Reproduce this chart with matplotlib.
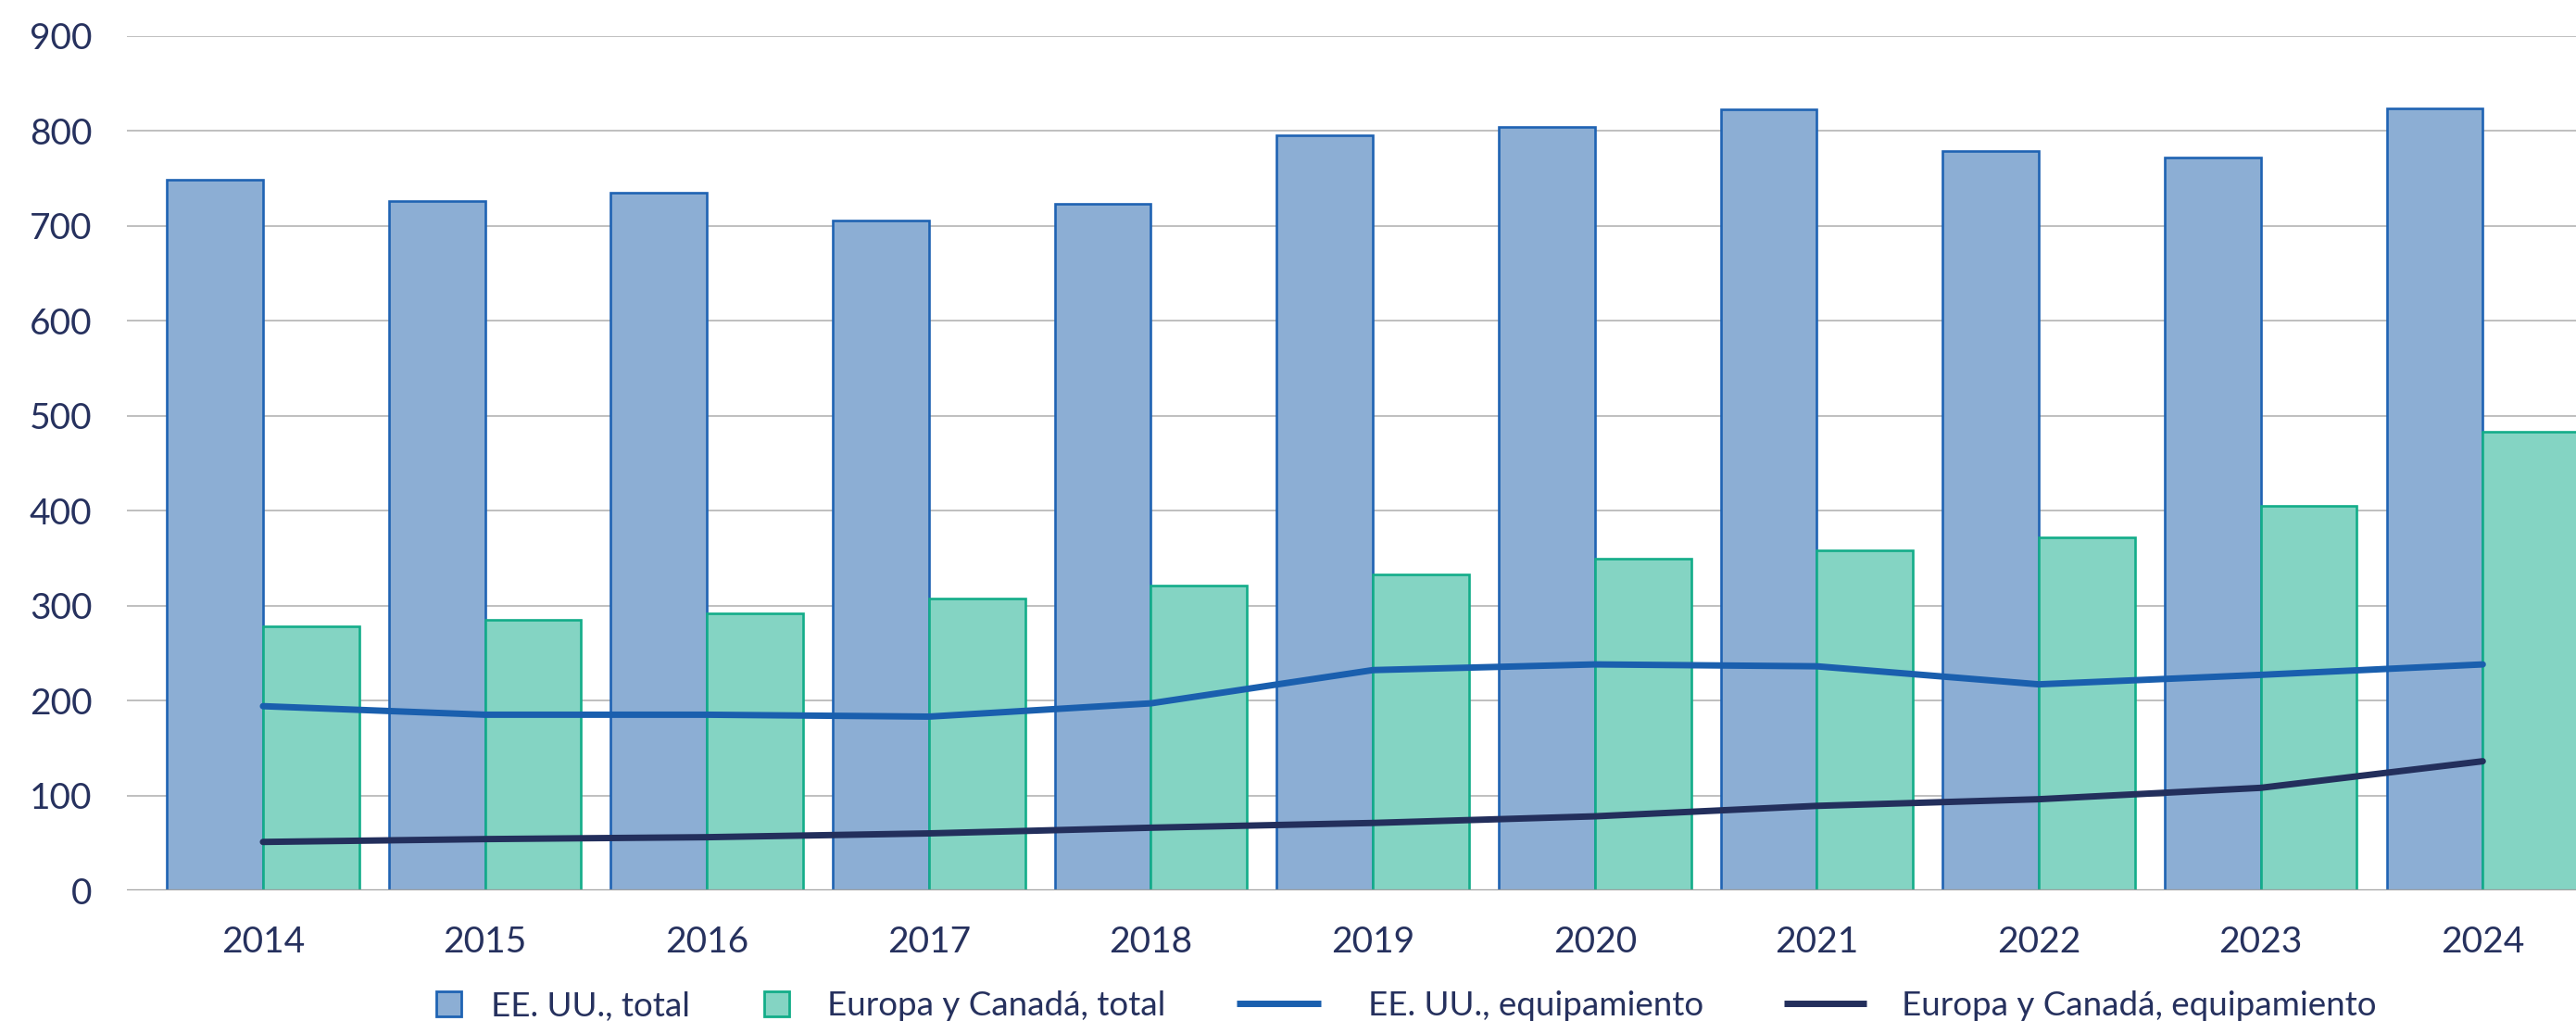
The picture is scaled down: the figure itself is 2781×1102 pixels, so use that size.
import matplotlib
matplotlib.use("Agg")
import matplotlib.pyplot as plt
import numpy as np
from matplotlib.patches import Rectangle
from matplotlib.lines import Line2D

# Defence spending series
years = ["2014", "2015", "2016", "2017", "2018", "2019", "2020", "2021", "2022", "2023", "2024"]
us_total = [748, 726, 735, 706, 723, 795, 804, 823, 779, 772, 824]
eu_total = [278, 285, 292, 307, 321, 333, 349, 358, 372, 405, 483]
us_equip = [194, 185, 185, 183, 197, 232, 238, 236, 217, 227, 238]
eu_equip = [51, 54, 56, 60, 66, 71, 78, 89, 96, 108, 136]
y_ticks = [0, 100, 200, 300, 400, 500, 600, 700, 800, 900]

legend_labels = ["EE. UU., total", "Europa y Canadá, total",
                 "EE. UU., equipamiento", "Europa y Canadá, equipamiento"]

TEXT = "#26315E"
US_FILL, US_EDGE = "#8CAED4", "#1F63B3"
EU_FILL, EU_EDGE = "#84D4C3", "#13AD89"
US_LINE, EU_LINE = "#1A5FAE", "#232F5C"
GRID = "#B4B4B4"

plt.rcParams["font.family"] = ["Lato", "DejaVu Sans"]

W, H = 2781, 1102
fig = plt.figure(figsize=(W / 100, H / 100), dpi=100)

left_px, right_px, top_px, bottom_px = 137, 2781, 38.7, 961
ax = fig.add_axes([left_px / W, 1 - bottom_px / H,
                   (right_px - left_px) / W, (bottom_px - top_px) / H])

x = np.arange(len(years))
bw = 0.433

ax.bar(x - bw / 2, us_total, width=bw, color=US_FILL, edgecolor=US_EDGE,
       linewidth=1.9, zorder=2)
ax.bar(x + bw / 2, eu_total, width=bw, color=EU_FILL, edgecolor=EU_EDGE,
       linewidth=1.9, zorder=2)

ax.plot(x, us_equip, color=US_LINE, lw=5, solid_capstyle="round",
        solid_joinstyle="round", zorder=5)
ax.plot(x, eu_equip, color=EU_LINE, lw=5, solid_capstyle="round",
        solid_joinstyle="round", zorder=5)

ax.axhline(0, color="#A0A0A0", lw=2.4, zorder=4)

ax.set_xlim(-0.613, 10.42)
ax.set_ylim(0, 900)
ax.set_yticks(y_ticks)
ax.set_xticks(x)
ax.set_xticklabels(years)
ax.yaxis.grid(True, color=GRID, lw=1.2, zorder=0)
ax.set_axisbelow(True)
for s in ax.spines.values():
    s.set_visible(False)
ax.tick_params(axis="both", length=0, labelsize=28, colors=TEXT)
ax.tick_params(axis="y", pad=27)
ax.tick_params(axis="x", pad=27)

# Legend row along the bottom
def fx(px):
    return px / W

def fy(py):
    return 1 - py / H

ly = 1083
fig.add_artist(Rectangle((fx(471), fy(1097)), 27 / W, 27 / H,
                         transform=fig.transFigure, facecolor=US_FILL,
                         edgecolor=US_EDGE, lw=2))
fig.add_artist(Rectangle((fx(825), fy(1097)), 27 / W, 27 / H,
                         transform=fig.transFigure, facecolor=EU_FILL,
                         edgecolor=EU_EDGE, lw=2))
fig.add_artist(Line2D([fx(1335), fx(1426)], [fy(ly), fy(ly)],
                      transform=fig.transFigure, color=US_LINE, lw=5,
                      solid_capstyle="butt"))
fig.add_artist(Line2D([fx(1926), fx(2015)], [fy(ly), fy(ly)],
                      transform=fig.transFigure, color=EU_LINE, lw=5,
                      solid_capstyle="butt"))
for xpos, lab in zip([530, 893, 1477, 2053], legend_labels):
    fig.text(fx(xpos), fy(ly), lab, ha="left", va="center_baseline",
             fontsize=26.5, color=TEXT)

fig.savefig("out.png", dpi=100)
